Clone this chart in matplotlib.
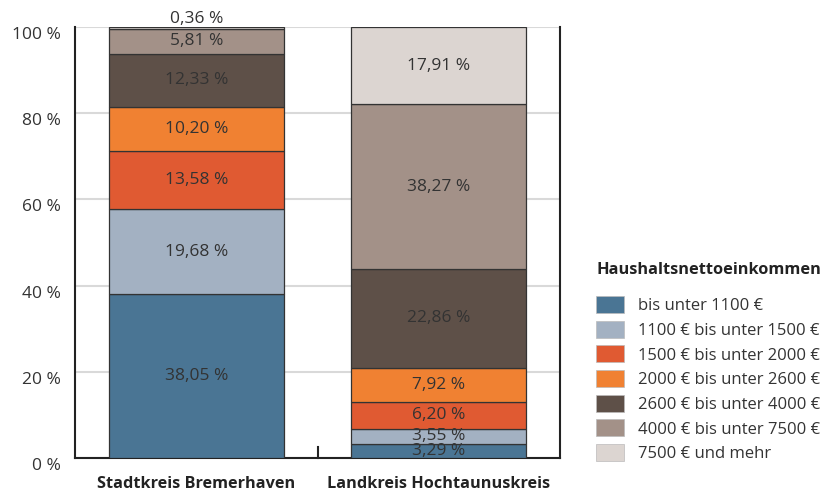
import matplotlib
matplotlib.use("Agg")
import matplotlib.pyplot as plt
import matplotlib.transforms as mtransforms
from matplotlib.patches import Patch

plt.rcParams['font.family'] = ['Open Sans', 'DejaVu Sans']

# data
regions = ["Stadtkreis Bremerhaven", "Landkreis Hochtaunuskreis"]
categories = [
    "bis unter 1100 €",
    "1100 € bis unter 1500 €",
    "1500 € bis unter 2000 €",
    "2000 € bis unter 2600 €",
    "2600 € bis unter 4000 €",
    "4000 € bis unter 7500 €",
    "7500 € und mehr",
]
bremerhaven = [38.05, 19.68, 13.58, 10.20, 12.33, 5.81, 0.36]
hochtaunus = [3.29, 3.55, 6.20, 7.92, 22.86, 38.27, 17.91]
colors = ["#4a7594", "#a3b1c2", "#e05a32", "#f08132", "#5e5048", "#a39188", "#dcd5d1"]
yticks = [0, 20, 40, 60, 80, 100]

fig = plt.figure(figsize=(8.27, 4.91), dpi=100)
ax = fig.add_axes([75 / 827, 1 - 458 / 491, (560 - 75) / 827, (458 - 27) / 491])

series = [bremerhaven, hochtaunus]
for i, vals in enumerate(series):
    bottom = 0
    for j, v in enumerate(vals):
        ax.bar(i, v, bottom=bottom, width=0.72, color=colors[j],
               edgecolor="#333333", linewidth=0.9, zorder=3)
        label = f"{v:.2f}".replace(".", ",") + " %"
        dy = 6 if v < 1 else 0
        ax.annotate(label, (i, bottom + v / 2), xytext=(0, dy),
                    textcoords="offset points", ha="center", va="center",
                    fontsize=12.5, color="#333333", zorder=4)
        bottom += v

ax.set_xlim(-0.5, 1.5)
ax.set_ylim(0, 100)
ax.set_yticks(yticks)
ax.set_yticklabels([f"{t} %" for t in yticks], fontsize=12.5, color="#333333")
ax.tick_params(axis="y", length=0, pad=10)
# labels sit a little below their gridlines
off = mtransforms.ScaledTranslation(0, -6 / 100, fig.dpi_scale_trans)
for lbl in ax.get_yticklabels():
    lbl.set_transform(lbl.get_transform() + off)

ax.set_xticks([0, 0.5, 1])
ax.set_xticklabels([regions[0], "", regions[1]], fontsize=11.7,
                   fontweight="bold", color="#222222")
ax.tick_params(axis="x", length=0, pad=13)
ax.plot([0.5, 0.5], [0, 2.5], color="#222222", lw=1.5, zorder=5, clip_on=False)

ax.yaxis.grid(True, color="#d9d9d9", linewidth=1.5, zorder=0)
ax.set_axisbelow(True)
ax.spines["top"].set_visible(False)
for s in ["left", "bottom", "right"]:
    ax.spines[s].set_color("#222222")
    ax.spines[s].set_linewidth(1.5)

# legend
fig.text(597 / 827, 1 - 270 / 491, "Haushaltsnettoeinkommen", fontsize=11.8,
         fontweight="bold", color="#222222", ha="left", va="center")
handles = [Patch(facecolor=c, edgecolor="#bbbbbb", linewidth=0.5) for c in colors]
leg = fig.legend(handles, categories, loc="upper left",
                 bbox_to_anchor=(596 / 827, 1 - 296 / 491),
                 frameon=False, fontsize=12, borderpad=0, borderaxespad=0,
                 handlelength=1.68, handleheight=1.2, handletextpad=0.85,
                 labelspacing=0.39)
for t in leg.get_texts():
    t.set_color("#333333")

fig.savefig("out.png", dpi=100)
